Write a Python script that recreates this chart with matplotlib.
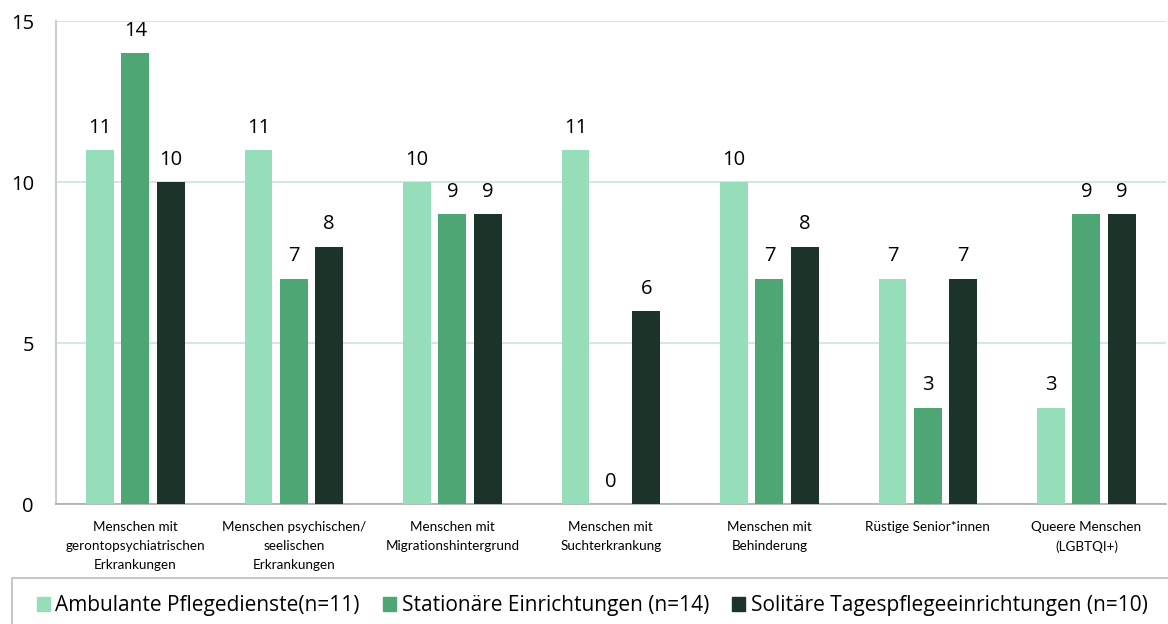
import numpy as np
import matplotlib.pyplot as plt
from matplotlib.patches import Patch, Rectangle

categories = [
    "Menschen mit\ngerontopsychiatrischen\nErkrankungen",
    "Menschen psychischen/\nseelischen\nErkrankungen",
    "Menschen mit\nMigrationshintergrund",
    "Menschen mit\nSuchterkrankung",
    "Menschen mit\nBehinderung",
    "Rüstige Senior*innen",
    "Queere Menschen\n(LGBTQI+)",
]
series_names = [
    "Ambulante Pflegedienste(n=11)",
    "Stationäre Einrichtungen (n=14)",
    "Solitäre Tagespflegeeinrichtungen (n=10)",
]
ambulant = [11, 11, 10, 11, 10, 7, 3]
stationaer = [14, 7, 9, 0, 7, 3, 9]
tagespflege = [10, 8, 9, 6, 8, 7, 9]
colors = ["#96DDB9", "#4DA673", "#1B3329"]

plt.rcParams["font.family"] = ["Open Sans", "DejaVu Sans"]

fig = plt.figure(figsize=(11.68, 6.24), dpi=100)
ax = fig.add_axes([0.048, 0.192, 0.950, 0.774])

x = np.arange(len(categories))
width = 0.176
step = 0.223
for i, vals in enumerate([ambulant, stationaer, tagespflege]):
    bars = ax.bar(x + (i - 1) * step, vals, width, color=colors[i], zorder=3)
    for b, v in zip(bars, vals):
        ax.annotate(str(v), (b.get_x() + b.get_width() / 2, v),
                    xytext=(0, 9), textcoords="offset points",
                    ha="center", va="bottom", fontsize=14.5)

ax.set_xlim(-0.5, len(categories) - 0.5)
ax.set_ylim(0, 15)
ax.set_yticks([0, 5, 10, 15])
ax.yaxis.grid(True, color="#D5E8E0", linewidth=1.5, zorder=0)
ax.set_xticks(x)
ax.set_xticklabels(categories, fontsize=9.7, family=["Lato", "DejaVu Sans"],
                   linespacing=1.7)
ax.tick_params(axis="x", length=0, pad=12)
ax.tick_params(axis="y", length=0, labelsize=14.5, pad=16)
for s in ["top", "right"]:
    ax.spines[s].set_visible(False)
ax.spines["left"].set_color("#C8D0CC")
ax.spines["left"].set_linewidth(1.5)
ax.spines["bottom"].set_color("#A8ADAA")
ax.spines["bottom"].set_linewidth(1.2)

# legend box spans to the right edge
fig.patches.append(Rectangle((12 / 1168, -0.05), 1.0, 0.05 + (624 - 578) / 624,
                             transform=fig.transFigure, fill=False,
                             edgecolor="#C8C8C8", linewidth=1.5))
handles = [Patch(color=c) for c in colors]
leg = fig.legend(handles, series_names, loc="center left",
                 bbox_to_anchor=(22 / 1168, 1 - 606 / 624), ncol=3,
                 fontsize=15, frameon=False,
                 handlelength=0.65, handleheight=0.65, handletextpad=0.25,
                 columnspacing=1.1, borderpad=0.2)

fig.savefig("out.png", dpi=100)
